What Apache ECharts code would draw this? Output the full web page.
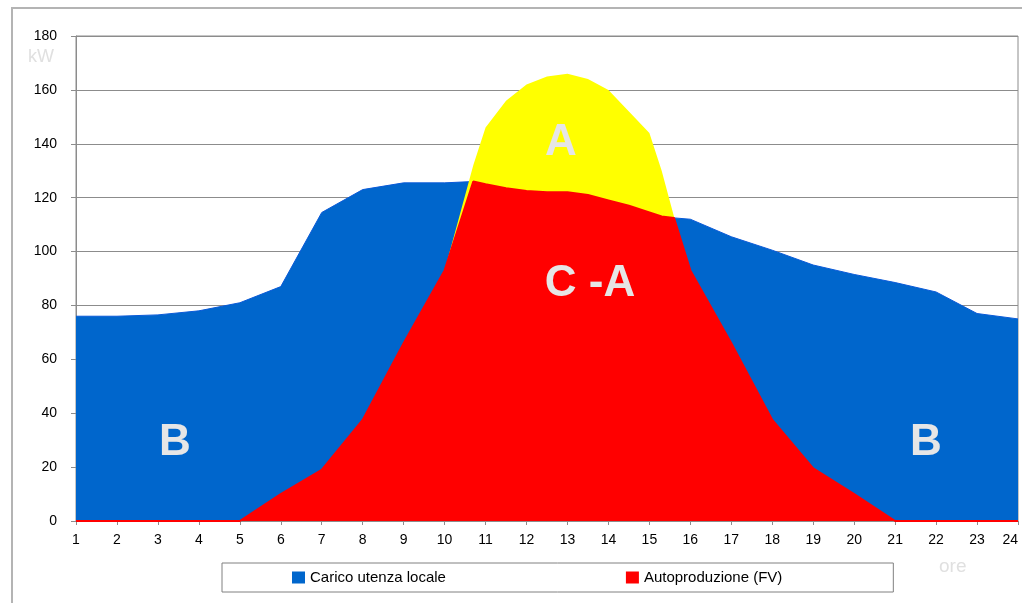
<!DOCTYPE html>
<html>
<head>
<meta charset="utf-8">
<script src="https://cdn.jsdelivr.net/npm/echarts@6/dist/echarts.min.js"></script>
<style>
  html, body { margin: 0; padding: 0; background: #fff; }
  #chart { width: 1022px; height: 603px; }
</style>
</head>
<body>
<div id="chart"></div>
<script>
// ore del giorno (qualche punto intermedio letto dove le curve si incrociano)
const hours = [1, 2, 3, 4, 5, 6, 7, 8, 9, 10, 10.7, 11, 11.5, 12, 12.5, 13, 13.5, 14, 14.5, 15, 15.3, 15.6, 16, 17, 18, 19, 20, 21, 22, 23, 24]
// carico utenza locale (kW)
const carico = [76, 76, 76.5, 78, 81, 87, 114.5, 123, 125.5, 125.5, 126, 125, 123.5, 122.5, 122, 122, 121, 119, 117, 114.5, 113, 112.5, 112, 105.5, 100.5, 95, 91.5, 88.5, 85, 77, 75]
// autoproduzione fotovoltaica (kW)
const autoprod = [0, 0, 0, 0, 0, 10, 19, 37.5, 66, 93, 132, 146, 156, 162, 165, 166, 164, 160, 152, 144, 130, 113, 93, 66, 37.5, 19.5, 10, 0, 0, 0, 0]
const yTicks = [0, 20, 40, 60, 80, 100, 120, 140, 160, 180]

const pair = (xs, ys) => xs.map((x, i) => [x, ys[i]])
// parte autoconsumata: la produzione fin dove non supera il carico
const autoconsumo = autoprod.map((v, i) => Math.min(v, carico[i]))

const chart = echarts.init(document.getElementById('chart'))
const labelStyle = { fill: '#e6e6e6', font: 'bold 44px "Liberation Sans", Arial, sans-serif', textAlign: 'center', textVerticalAlign: 'middle' }
const bigLabel = text => Object.assign({}, labelStyle, { text: text })

const option = {
  animation: false,
  backgroundColor: '#fff',
  grid: {
    left: 76,
    right: 4,
    top: 36,
    bottom: 82,
    outerBoundsMode: 'none',
    containLabel: false,
    show: true,
    borderColor: '#8c8c8c',
    borderWidth: 1
  },
  legend: {
    left: 222,
    top: 563,
    padding: [7, 111, 7, 70],
    itemGap: 180,
    itemWidth: 13,
    itemHeight: 12,
    icon: 'rect',
    borderColor: '#808080',
    borderWidth: 1,
    textStyle: { fontFamily: 'Liberation Sans', fontSize: 15, color: '#000' },
    data: ['Carico utenza locale', 'Autoproduzione (FV)']
  },
  xAxis: {
    type: 'value',
    min: 1,
    max: 24,
    interval: 1,
    splitLine: { show: false },
    axisLine: { lineStyle: { color: '#8c8c8c' } },
    axisTick: { show: true, length: 4, lineStyle: { color: '#8c8c8c' } },
    axisLabel: { margin: 12, alignMaxLabel: 'right', fontFamily: 'Liberation Sans', fontSize: 14, color: '#000' }
  },
  yAxis: {
    type: 'value',
    min: yTicks[0],
    max: yTicks[yTicks.length - 1],
    interval: 20,
    axisLine: { show: true, lineStyle: { color: '#8c8c8c' } },
    axisTick: { show: true, length: 5, lineStyle: { color: '#8c8c8c' } },
    splitLine: { lineStyle: { color: '#8c8c8c' } },
    axisLabel: { margin: 19, fontFamily: 'Liberation Sans', fontSize: 14, color: '#000' }
  },
  series: [
    {
      name: 'Carico utenza locale',
      type: 'line',
      data: pair(hours, carico),
      symbol: 'none',
      color: '#0066cc',
      lineStyle: { color: '#0a5ad8', width: 1 },
      areaStyle: { color: '#0066cc', opacity: 1 },
      z: 2
    },
    {
      name: 'A',
      type: 'line',
      data: pair(hours, autoprod),
      symbol: 'none',
      lineStyle: { width: 0 },
      areaStyle: { color: '#ffff00', opacity: 1 },
      z: 3
    },
    {
      name: 'Autoproduzione (FV)',
      type: 'line',
      data: pair(hours, autoconsumo),
      symbol: 'none',
      color: '#ff0000',
      lineStyle: { color: '#ff0000', width: 2 },
      areaStyle: { color: '#ff0000', opacity: 1 },
      z: 4
    }
  ],
  graphic: [
    { type: 'rect', shape: { x: 12, y: 8, width: 1030, height: 640 }, style: { fill: 'none', stroke: '#b4b4b4', lineWidth: 2 }, z: 0, silent: true },
    { type: 'text', left: 28, top: 48, style: { text: 'kW', fill: '#e0e0e0', font: '18px "Liberation Sans", sans-serif' }, z: 10 },
    { type: 'text', left: 939, top: 557, style: { text: 'ore', fill: '#e0e0e0', font: '19px "Liberation Sans", sans-serif' }, z: 10 },
    { type: 'text', x: 175, y: 443, style: bigLabel('B'), z: 10 },
    { type: 'text', x: 926, y: 443, style: bigLabel('B'), z: 10 },
    { type: 'text', x: 590, y: 284, style: bigLabel('C -A'), z: 10 },
    { type: 'text', x: 561, y: 143, style: bigLabel('A'), z: 10 }
  ]
}

chart.setOption(option)
</script>
</body>
</html>
